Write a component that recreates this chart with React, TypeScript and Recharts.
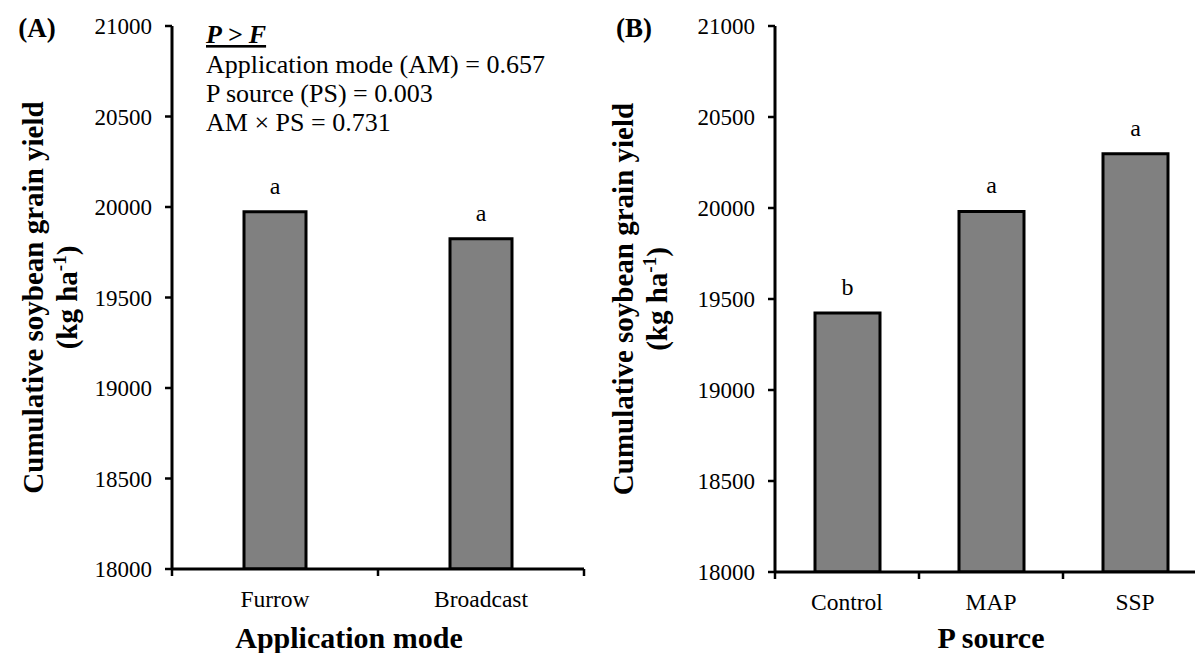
import { BarChart, Bar, XAxis, YAxis, LabelList } from "recharts";

// Panel A: application mode
const modeCategories = ["Furrow", "Broadcast"];
const modeYield = [19974, 19825];
const modeLetters = ["a", "a"];

// Panel B: P source
const sourceCategories = ["Control", "MAP", "SSP"];
const sourceYield = [19423, 19981, 20298];
const sourceLetters = ["b", "a", "a"];

const yTicks = [18000, 18500, 19000, 19500, 20000, 20500, 21000];

const statsTitle = "P > F";
const statsLines = [
  "Application mode (AM) = 0.657",
  "P source (PS) = 0.003",
  "AM \u00d7 PS = 0.731",
];

const FONT = '"Liberation Serif", "Times New Roman", Times, serif';
const H = 653;
const TOP = 26;
const X_AXIS_H = 60;
const X_TICK_MARGIN = 21;

const toRows = (cats: string[], vals: number[], letters: string[]) =>
  cats.map((name, i) => ({ name, value: vals[i], letter: letters[i] }));

// category ticks sit on the band edges, labels in the middle
function CategoryTick(props: any) {
  const { x, y, payload, index, band, count } = props;
  const axisY = y - X_TICK_MARGIN;
  const lx = x - band / 2;
  const rx = x + band / 2;
  return (
    <g>
      <line x1={lx} x2={lx} y1={axisY} y2={axisY + 7} stroke="#000" strokeWidth={2.5} />
      {index === count - 1 && (
        <line x1={rx} x2={rx} y1={axisY} y2={axisY + 7} stroke="#000" strokeWidth={2.5} />
      )}
      <text
        x={x}
        y={y}
        dy="0.71em"
        textAnchor="middle"
        fontSize={23.5}
        fontFamily={FONT}
        fill="#000"
      >
        {payload.value}
      </text>
    </g>
  );
}

function yLabel(props: any) {
  const { viewBox } = props;
  const cy = viewBox.y + viewBox.height / 2;
  const common = {
    textAnchor: "middle" as const,
    fontSize: 29,
    fontWeight: 700,
    fontFamily: FONT,
    fill: "#000",
  };
  return (
    <g>
      <text {...common} x={43} y={cy} transform={`rotate(-90 43 ${cy})`}>
        Cumulative soybean grain yield
      </text>
      <text {...common} x={77} y={cy} transform={`rotate(-90 77 ${cy})`}>
        (kg ha
        <tspan dy={-11} fontSize={19}>
          -1
        </tspan>
        <tspan dy={11}>)</tspan>
      </text>
    </g>
  );
}

function xTitle(text: string, shift: number) {
  return (props: any) => {
    const { viewBox } = props;
    return (
      <text
        x={viewBox.x + viewBox.width / 2 + shift}
        y={648}
        textAnchor="middle"
        fontSize={30}
        fontWeight={700}
        fontFamily={FONT}
        fill="#000"
      >
        {text}
      </text>
    );
  };
}

interface PanelProps {
  left: number;
  width: number;
  yAxisWidth: number;
  plotBottom: number;
  rightMargin: number;
  barSize: number;
  rows: { name: string; value: number; letter: string }[];
  title: string;
  titleShift: number;
}

function Panel(p: PanelProps) {
  const plotWidth = p.width - p.yAxisWidth - p.rightMargin;
  const band = plotWidth / p.rows.length;
  return (
    <div style={{ position: "absolute", left: p.left, top: 0 }}>
      <BarChart
        width={p.width}
        height={H}
        data={p.rows}
        margin={{ top: TOP, right: p.rightMargin, left: 0, bottom: H - p.plotBottom - X_AXIS_H }}
      >
        <XAxis
          dataKey="name"
          height={X_AXIS_H}
          axisLine={{ stroke: "#000", strokeWidth: 3 }}
          tickLine={false}
          tickSize={0}
          tickMargin={X_TICK_MARGIN}
          interval={0}
          tick={(t: any) => <CategoryTick {...t} band={band} count={p.rows.length} />}
          label={xTitle(p.title, p.titleShift)}
        />
        <YAxis
          width={p.yAxisWidth}
          domain={[18000, 21000]}
          ticks={yTicks}
          interval={0}
          allowDataOverflow
          axisLine={{ stroke: "#000", strokeWidth: 3 }}
          tickLine={{ stroke: "#000", strokeWidth: 2.5 }}
          tickSize={7}
          tickMargin={13}
          tick={{ fill: "#000", fontSize: 23, fontFamily: FONT }}
          label={yLabel}
        />
        <Bar
          dataKey="value"
          fill="#808080"
          stroke="#000"
          strokeWidth={3}
          barSize={p.barSize}
          isAnimationActive={false}
        >
          <LabelList
            dataKey="letter"
            position="top"
            offset={18}
            style={{ fill: "#000", fontSize: 24, fontFamily: FONT }}
          />
        </Bar>
      </BarChart>
    </div>
  );
}

export default function App() {
  const textStyle = { fontFamily: FONT, fill: "#000" };
  return (
    <div
      style={{
        position: "absolute",
        left: 0,
        top: 0,
        width: 1195,
        height: H,
        overflow: "hidden",
        background: "#fff",
      }}
    >
      <Panel
        left={0}
        width={600}
        yAxisWidth={172}
        plotBottom={569}
        rightMargin={16}
        barSize={62}
        rows={toRows(modeCategories, modeYield, modeLetters)}
        title="Application mode"
        titleShift={-29}
      />
      <Panel
        left={590}
        width={622}
        yAxisWidth={185}
        plotBottom={572}
        rightMargin={5}
        barSize={65}
        rows={toRows(sourceCategories, sourceYield, sourceLetters)}
        title="P source"
        titleShift={0}
      />
      <svg
        width={1195}
        height={H}
        style={{ position: "absolute", left: 0, top: 0, pointerEvents: "none" }}
      >
        <text {...textStyle} x={37} y={37} textAnchor="middle" fontSize={27} fontWeight={700}>
          (A)
        </text>
        <text {...textStyle} x={634} y={37} textAnchor="middle" fontSize={27} fontWeight={700}>
          (B)
        </text>
        <text
          {...textStyle}
          x={206}
          y={43}
          fontSize={26}
          fontWeight={700}
          fontStyle="italic"
          textDecoration="underline"
        >
          {statsTitle}
        </text>
        {statsLines.map((line, i) => (
          <text key={line} {...textStyle} x={206} y={73 + i * 29} fontSize={26}>
            {line}
          </text>
        ))}
      </svg>
    </div>
  );
}
